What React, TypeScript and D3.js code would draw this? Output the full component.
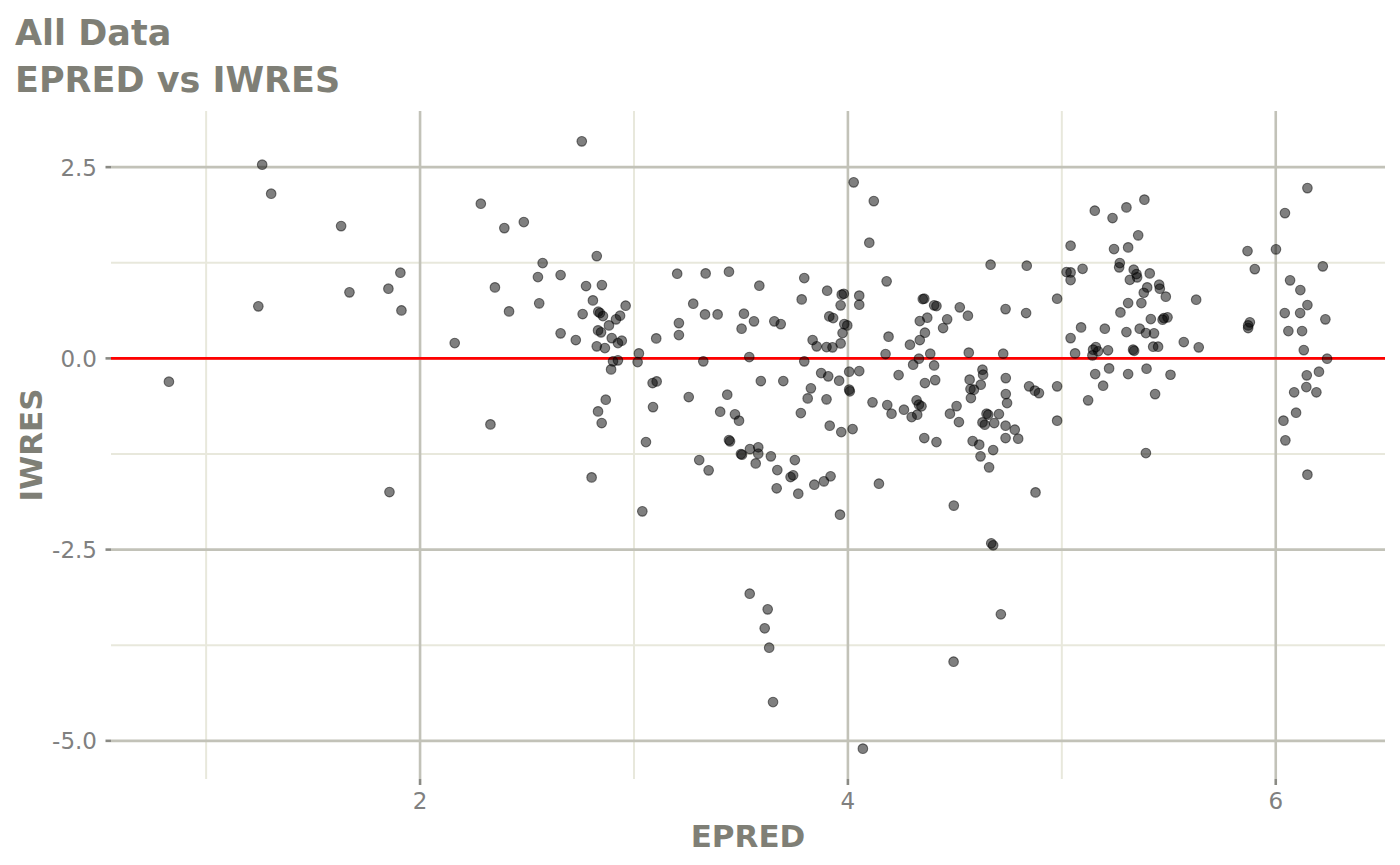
import * as d3 from 'd3'

// EPRED vs IWRES residual scatter.
const epred = [
  0.826, 1.262, 1.244, 1.304, 1.631, 1.67, 1.852, 1.908, 1.913, 1.857, 2.162, 2.284, 2.329, 2.35, 2.394, 2.416, 2.485, 2.551, 2.557, 2.573,
  2.657, 2.657, 2.728, 2.756, 2.76, 2.776, 2.802, 2.808, 2.826, 2.833, 2.841, 2.855, 2.85, 2.832, 2.846, 2.826, 2.864, 2.832, 2.849, 2.868,
  2.883, 2.896, 2.902, 2.925, 2.893, 2.916, 2.935, 2.925, 2.943, 2.961, 3.023, 3.017, 3.039, 3.056, 3.087, 3.106, 3.089, 3.104,
  3.202, 3.21, 3.21, 3.256, 3.277, 3.305, 3.324, 3.332, 3.335, 3.349, 3.391, 3.403, 3.436, 3.444, 3.444, 3.449, 3.472, 3.491, 3.5, 3.505,
  3.503, 3.514, 3.539, 3.542, 3.541, 3.561, 3.569, 3.581, 3.581, 3.586, 3.593, 3.611, 3.625, 3.632, 3.64, 3.65, 3.656, 3.67, 3.667, 3.686,
  3.698, 3.732, 3.744, 3.752, 3.768, 3.78, 3.784, 3.796, 3.796, 3.812, 3.827, 3.835, 3.843, 3.854, 3.875, 3.888, 3.9, 3.9, 3.903, 3.908,
  3.913, 3.915, 3.919, 3.928, 3.931,
  3.966, 3.966, 3.971, 3.981, 3.975, 3.983, 3.997, 4.006, 4.006, 4.009, 3.969, 4.022, 4.053, 4.053, 4.053, 3.959, 3.963, 4.027, 4.121, 4.1,
  4.115, 4.145, 4.07, 4.176, 4.181, 4.184, 4.19, 4.204, 4.237, 4.262, 4.29, 4.298, 4.305, 4.321, 4.324, 4.332, 4.332, 4.336, 4.336, 4.344,
  4.35, 4.357, 4.357, 4.36, 4.36, 4.371, 4.385, 4.403, 4.414, 4.403, 4.408, 4.414, 4.445, 4.464, 4.477, 4.495, 4.494, 4.508, 4.519, 4.523,
  4.561, 4.565, 4.569, 4.573, 4.589, 4.575, 4.583, 4.614, 4.62, 4.621, 4.629, 4.632, 4.629, 4.64, 4.648, 4.656, 4.66, 4.667, 4.67, 4.679,
  4.679, 4.684, 4.706, 4.715, 4.726, 4.737, 4.737, 4.737, 4.738, 4.738, 4.744, 4.78, 4.796, 4.833, 4.836, 4.847, 4.874, 4.893, 4.877, 4.978,
  4.978, 4.978,
  5.022, 5.041, 5.041, 5.041, 5.041, 5.062, 5.09, 5.097, 5.123, 5.143, 5.146, 5.154, 5.156, 5.159, 5.17, 5.193, 5.201, 5.216, 5.221, 5.237,
  5.244, 5.268, 5.271, 5.274, 5.302, 5.302, 5.31, 5.31, 5.31, 5.318, 5.333, 5.338, 5.336, 5.349, 5.352, 5.357, 5.364, 5.372, 5.383, 5.386,
  5.393, 5.393, 5.396, 5.399, 5.411, 5.416, 5.427, 5.431, 5.436, 5.45, 5.455, 5.458, 5.471, 5.477, 5.486, 5.494, 5.508, 5.57, 5.628, 5.64,
  5.868, 5.871, 5.871, 5.879, 5.902, 6.001, 6.036, 6.043, 6.042, 6.045, 6.059, 6.067, 6.086, 6.095, 6.114, 6.115, 6.123, 6.131, 6.143, 6.145,
  6.148, 6.148, 6.148, 6.19, 6.202, 6.22, 6.232, 6.24,
]

const iwres = [
  -0.305, 2.532, 0.68, 2.153, 1.729, 0.863, 0.911, 1.12, 0.627, -1.748, 0.2, 2.022, -0.863, 0.928, 1.703, 0.614, 1.782, 1.063, 0.719, 1.246,
  1.089, 0.327, 0.239, 2.837, 0.579, 0.945, -1.556, 0.758, 1.337, 0.61, 0.592, 0.553, 0.958, 0.366, 0.34, 0.157, 0.135, -0.693, -0.846, -0.54,
  0.431, 0.265, -0.039, -0.026, -0.144, 0.51, 0.558, 0.2, 0.231, 0.689, 0.065, -0.048, -2.0, -1.094, -0.323, -0.301, -0.637, 0.261,
  1.107, 0.461, 0.305, -0.506, 0.715, -1.329, -0.039, 0.575, 1.111, -1.464, 0.575, -0.697, -0.475, 1.133, -1.068, -1.085, -0.732, -0.814, -1.251, -1.259,
  0.388, 0.584, 0.017, -1.186, -3.076, 0.484, -1.373, -1.163, -1.246, 0.95, -0.297, -3.529, -3.281, -3.782, -1.281, -4.493, 0.484, -1.46, -1.699, 0.448,
  -0.297, -1.552, -1.529, -1.329, -1.769, -0.715, 0.771, 1.05, -0.039, -0.523, -0.392, 0.239, -1.651, 0.157, -0.192, -1.608, 0.148, -0.536, 0.885, -0.235,
  0.549, -0.88, -1.542, 0.144, 0.527,
  0.693, 0.196, 0.833, 0.845, 0.331, 0.448, 0.431, -0.174, -0.409, -0.431, -0.963, -0.924, 0.82, 0.702, -0.166, -0.292, -2.043, 2.301, 2.056, 1.512,
  -0.575, -1.638, -5.102, 0.056, 1.007, -0.61, 0.284, -0.723, -0.218, -0.671, 0.179, -0.767, -0.082, -0.549, -0.736, -0.004, -0.605, 0.488, 0.239, -0.627,
  0.775, 0.78, -1.042, 0.336, -0.323, 0.532, 0.061, 0.693, 0.684, -0.092, -0.284, -1.094, 0.396, 0.51, -0.723, -1.925, -3.965, -0.624, -0.833, 0.667,
  0.558, 0.075, -0.278, -0.401, -0.409, -0.519, -1.081, -1.128, -1.281, -0.344, -0.148, -0.213, -0.837, -0.867, -0.723, -0.736, -1.425, 1.225, -2.418, -2.444,
  -1.199, -0.846, -0.728, -3.346, 0.061, 0.644, -0.88, -1.042, -0.258, -0.467, -0.584, -0.932, -1.05, 0.592, 1.212, -0.366, -0.422, -0.454, -1.752, 0.78,
  -0.366, -0.814,
  1.128, 1.124, 1.024, 1.473, 0.265, 0.065, 0.405, 1.171, -0.549, 0.039, 0.114, 1.931, -0.205, 0.148, 0.092, -0.357, 0.388, 0.105, -0.131, 1.834,
  1.429, 1.19, 1.246, 0.601, 1.974, 0.344, 1.451, 0.723, -0.205, 1.027, 0.114, 0.099, 1.159, 1.102, 1.059, 1.608, 0.388, 0.723, 0.858, 2.075,
  0.331, -1.238, -0.135, 0.928, 1.111, 0.514, 0.153, 0.327, -0.467, 0.153, 0.963, 0.911, 0.506, 0.527, 0.807, 0.536, -0.214, 0.213, 0.767, 0.144,
  1.403, 0.431, 0.396, 0.471, 1.167, 1.425, -0.814, 1.899, 0.592, -1.072, 0.357, 1.02, -0.444, -0.71, 0.592, 0.893, 0.357, 0.108, -0.375, -0.222,
  2.226, 0.697, -1.52, -0.444, -0.174, 1.203, 0.51, -0.004,
]

const titleLines = ['All Data', 'EPRED vs IWRES']
const xMajor = [2, 4, 6]
const xMinor = [1, 3, 5]
const yMajor = [-5, -2.5, 0, 2.5]
const yMinor = [-3.75, -1.25, 1.25]
const yTickLabels = ['-5.0', '-2.5', '0.0', '2.5']
const refLine = 0

const W = 1400
const H = 865
const m = { top: 111, right: 15, bottom: 86, left: 111 }
const TEXT = '#7f7f76'
const TICK_TEXT = '#808080'
const FONT = 'DejaVu Sans, sans-serif'

// ggplot-style 5% expansion of the data range
function expand(v: number[]): [number, number] {
  const [lo, hi] = d3.extent(v) as [number, number]
  const pad = (hi - lo) * 0.05
  return [lo - pad, hi + pad]
}

export default function App() {
  const x = d3.scaleLinear().domain(expand(epred)).range([m.left, W - m.right])
  const y = d3.scaleLinear().domain(expand(iwres)).range([H - m.bottom, m.top])
  const [x0, x1] = x.range()
  const [y0, y1] = y.range()
  const pts = epred.map((e, i) => ({ e, r: iwres[i] }))

  return (
    <div style={{ position: 'absolute', left: 0, top: 0 }}>
      <svg width={W} height={H} viewBox={`0 0 ${W} ${H}`} style={{ display: 'block', background: '#fff' }}>
        {titleLines.map((t, i) => (
          <text key={t} x={15} y={45 + i * 47} fontFamily={FONT} fontWeight="bold" fontSize={35} fill={TEXT}>
            {t}
          </text>
        ))}

        {xMinor.map((v) => (
          <line key={`xm${v}`} x1={x(v)} x2={x(v)} y1={y1} y2={y0} stroke="#e8e8dc" strokeWidth={2} />
        ))}
        {yMinor.map((v) => (
          <line key={`ym${v}`} x1={x0} x2={x1} y1={y(v)} y2={y(v)} stroke="#e8e8dc" strokeWidth={2} />
        ))}
        {xMajor.map((v) => (
          <line key={`xM${v}`} x1={x(v)} x2={x(v)} y1={y1} y2={y0} stroke="#c2c2b8" strokeWidth={2.6} />
        ))}
        {yMajor.map((v) => (
          <line key={`yM${v}`} x1={x0} x2={x1} y1={y(v)} y2={y(v)} stroke="#c2c2b8" strokeWidth={2.6} />
        ))}

        <line x1={x0} x2={x1} y1={y(refLine)} y2={y(refLine)} stroke="#ff0000" strokeWidth={2.6} />

        {pts.map((p, i) => (
          <circle
            key={i}
            cx={x(p.e)}
            cy={y(p.r)}
            r={4.8}
            fill="rgba(0,0,0,0.5)"
            stroke="rgba(0,0,0,0.5)"
            strokeWidth={1.1}
          />
        ))}

        {yMajor.map((v, i) => (
          <g key={`yt${v}`}>
            <line x1={x0 - 5.5} x2={x0} y1={y(v)} y2={y(v)} stroke="#8a8a84" strokeWidth={2.6} />
            <text
              x={x0 - 14}
              y={y(v) + 8.4}
              textAnchor="end"
              fontFamily={FONT}
              fontSize={23}
              fill={TICK_TEXT}
            >
              {yTickLabels[i]}
            </text>
          </g>
        ))}
        {xMajor.map((v) => (
          <g key={`xt${v}`}>
            <line x1={x(v)} x2={x(v)} y1={y0} y2={y0 + 6} stroke="#8a8a84" strokeWidth={2.6} />
            <text x={x(v)} y={809} textAnchor="middle" fontFamily={FONT} fontSize={23} fill={TICK_TEXT}>
              {v}
            </text>
          </g>
        ))}

        <text
          x={(x0 + x1) / 2}
          y={847}
          textAnchor="middle"
          fontFamily={FONT}
          fontWeight="bold"
          fontSize={31}
          fill={TEXT}
        >
          EPRED
        </text>
        <text
          transform={`translate(42,${(y0 + y1) / 2}) rotate(-90)`}
          textAnchor="middle"
          fontFamily={FONT}
          fontWeight="bold"
          fontSize={31}
          fill={TEXT}
        >
          IWRES
        </text>
      </svg>
    </div>
  )
}
